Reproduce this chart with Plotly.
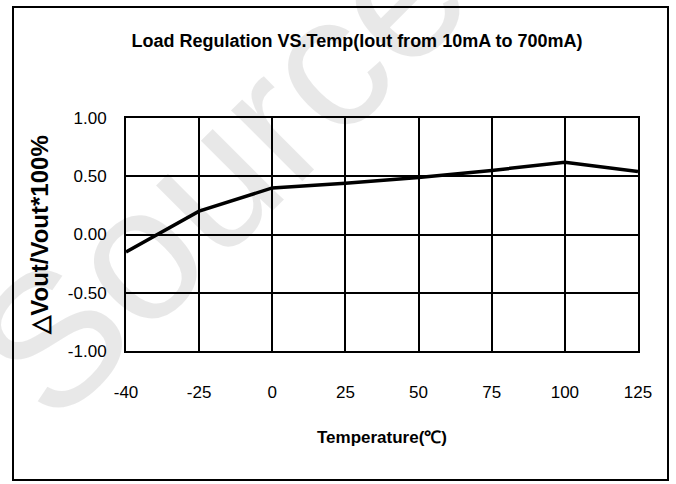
import plotly.graph_objects as go

temps = ["-40", "-25", "0", "25", "50", "75", "100", "125"]
delta_vout = [-0.15, 0.20, 0.40, 0.44, 0.49, 0.55, 0.62, 0.54]
y_ticks = [-1.0, -0.5, 0.0, 0.5, 1.0]
y_ticktext = ["-1.00", "-0.50", "0.00", "0.50", "1.00"]

W, H = 676, 484
L, R, T, B = 126, 638, 118, 351

sans = "Liberation Sans, Arial, sans-serif"

fig = go.Figure()
fig.add_trace(go.Scatter(x=temps, y=delta_vout, mode="lines",
                         line=dict(color="black", width=3.5), showlegend=False,
                         hoverinfo="x+y"))

fig.update_layout(
    width=W, height=H,
    margin=dict(l=L, r=W - R, t=T, b=H - B, pad=0),
    paper_bgcolor="white", plot_bgcolor="white",
    title=dict(text="<b>Load Regulation VS.Temp(Iout from 10mA to 700mA)</b>",
               xref="container", yref="container",
               x=357 / W, y=1 - 41 / H, xanchor="center", yanchor="middle",
               font=dict(family=sans, size=18, color="black")),
    xaxis=dict(type="category", range=[0, 7], showgrid=True, gridcolor="black",
               gridwidth=1.5, showline=True, linecolor="black", linewidth=2,
               mirror=True, ticks="", ticklabelstandoff=25,
               tickfont=dict(family=sans, size=17, color="black"),
               title=dict(text="<b>Temperature(℃)</b>", standoff=30,
                          font=dict(family=sans, size=17, color="black"))),
    yaxis=dict(range=[-1, 1], tickvals=y_ticks, ticktext=y_ticktext,
               showgrid=True, gridcolor="black", gridwidth=1.5, zeroline=False,
               showline=True, linecolor="black", linewidth=2, mirror=True,
               ticks="", ticklabelstandoff=14,
               tickfont=dict(family=sans, size=17, color="black"),
               title=dict(text="<b>△Vout/Vout*100%</b>", standoff=12,
                          font=dict(family=sans, size=24, color="black"))),
    shapes=[dict(type="rect", xref="paper", yref="paper",
                 x0=(13 - L) / (R - L), x1=(668 - L) / (R - L),
                 y0=(B - 480) / (B - T), y1=(B - 7) / (B - T),
                 line=dict(color="black", width=2), layer="below")],
    annotations=[dict(text="Source", xref="paper", yref="paper",
                      x=(220 - L) / (R - L), y=(B - 170) / (B - T),
                      xanchor="center", yanchor="middle",
                      showarrow=False, textangle=-45,
                      font=dict(family=sans, size=190,
                                color="rgba(0,0,0,0.09)"))],
)

fig.write_html("out.html", config={"displayModeBar": False},
               post_script="document.body.style.margin='0';")
